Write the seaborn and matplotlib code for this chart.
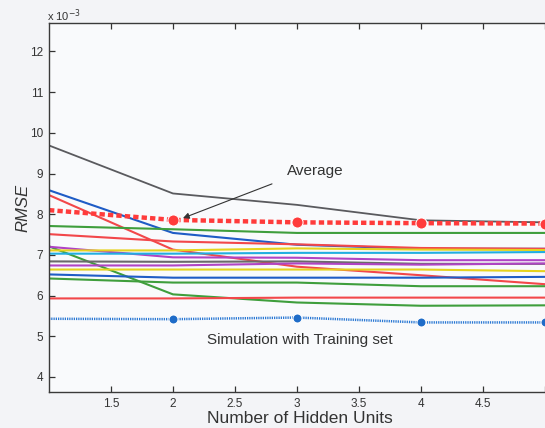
import matplotlib
matplotlib.use("Agg")
import matplotlib.pyplot as plt
import pandas as pd
import seaborn as sns

# --- DATA (RMSE in units of 1e-3) ---
hidden_units = [1, 2, 3, 4, 5]

run_names = [
    "gray_top", "blue_a", "red_a", "green_a", "red_b", "green_b", "magenta_a",
    "yellow_a", "cyan", "gray_b", "magenta_b", "yellow_b", "blue_b", "green_c", "red_c",
]
run_values = [
    [9.69, 8.51, 8.23, 7.85, 7.80],
    [8.59, 7.54, 7.25, 7.15, 7.15],
    [8.47, 7.13, 6.71, 6.50, 6.28],
    [7.71, 7.63, 7.54, 7.54, 7.54],
    [7.51, 7.33, 7.26, 7.17, 7.15],
    [7.21, 6.03, 5.83, 5.75, 5.76],
    [7.20, 6.94, 6.93, 6.87, 6.87],
    [7.11, 7.11, 7.16, 7.13, 7.12],
    [7.03, 7.03, 7.05, 7.05, 7.07],
    [6.84, 6.83, 6.84, 6.78, 6.78],
    [6.74, 6.74, 6.79, 6.76, 6.79],
    [6.64, 6.64, 6.64, 6.64, 6.60],
    [6.52, 6.44, 6.44, 6.44, 6.46],
    [6.42, 6.32, 6.32, 6.23, 6.23],
    [5.93, 5.93, 5.95, 5.95, 5.95],
]
run_colors = [
    "#5a5a5e", "#1f5cc6", "#f2474a", "#3f9e3c", "#f2474a", "#3f9e3c", "#b044c4",
    "#e6d21e", "#22aee0", "#6a6a6a", "#b044c4", "#e6d21e", "#1f5cc6", "#3f9e3c", "#f2474a",
]

average_rmse = [8.10, 7.86, 7.80, 7.78, 7.77]
training_rmse = [5.43, 5.42, 5.46, 5.34, 5.34]

x_ticks = [1.5, 2, 2.5, 3, 3.5, 4, 4.5, 5]
x_ticklabels = ["1.5", "2", "2.5", "3", "3.5", "4", "4.5", ""]

# --- build long table for seaborn ---
rows = []
for name, vals in zip(run_names, run_values):
    for x, v in zip(hidden_units, vals):
        rows.append({"units": x, "rmse": v, "run": name})
runs_df = pd.DataFrame(rows)
avg_df = pd.DataFrame({"units": hidden_units, "rmse": average_rmse})
train_df = pd.DataFrame({"units": hidden_units, "rmse": training_rmse})

sns.set_theme(style="white")
plt.rcParams["font.family"] = ["Liberation Sans", "DejaVu Sans"]

fig = plt.figure(figsize=(5.45, 4.28), dpi=100, facecolor="#f3f4f7")
ax = fig.add_axes([49 / 545, 36 / 428, 502 / 545, 369 / 428])
ax.set_facecolor("#f9fafc")

sns.lineplot(data=runs_df, x="units", y="rmse", hue="run", hue_order=run_names,
             palette=run_colors, linewidth=1.5, legend=False, ax=ax)
ax.lines[0].set_linewidth(1.3)

sns.lineplot(data=avg_df, x="units", y="rmse", color="#ff3b3b", linewidth=3.2,
             ax=ax, legend=False)
avg_line = ax.lines[-1]
avg_line.set_dashes((1.2, 0.7))
avg_line.set_marker("o")
avg_line.set_markersize(8)
avg_line.set_markevery([1, 2, 3, 4])

sns.lineplot(data=train_df, x="units", y="rmse", color="#2a78d4", linewidth=1.8,
             ax=ax, legend=False)
tr_line = ax.lines[-1]
tr_line.set_dashes((0.5, 0.4))
tr_line.set_marker("o")
tr_line.set_markersize(6.5)
tr_line.set_markerfacecolor("#1f6cc8")
tr_line.set_markevery([1, 2, 3, 4])

ax.set_xlim(1, 5.05)
ax.set_ylim(3.63, 12.7)
ax.set_xticks(x_ticks)
ax.set_xticklabels(x_ticklabels)
ax.set_yticks(range(4, 13))
ax.tick_params(direction="in", length=4, width=0.9, labelsize=8.5, colors="#333333",
               top=True, right=True, bottom=True, left=True, pad=4)
for s in ax.spines.values():
    s.set_color("#3a3a3a")
    s.set_linewidth(1.0)

ax.set_xlabel("Number of Hidden Units", fontsize=12.5, color="#333333", labelpad=1)
ax.set_ylabel("RMSE", fontsize=12, fontstyle="italic", color="#333333", labelpad=0)

fig.text(47 / 545, 1 - 16 / 428, r"x 10$^{-3}$", fontsize=8, color="#333333",
         va="center", ha="left")

ax.annotate("", xy=(2.06, 7.88), xytext=(2.82, 8.77),
            arrowprops=dict(arrowstyle="-|>", color="#333333", lw=0.8, mutation_scale=9))
ax.text(3.15, 9.06, "Average", fontsize=11, color="#333333", ha="center", va="center")
ax.text(3.02, 4.91, "Simulation with Training set", fontsize=11, color="#333333",
        ha="center", va="center")

fig.savefig("out.png", dpi=100, facecolor=fig.get_facecolor())
